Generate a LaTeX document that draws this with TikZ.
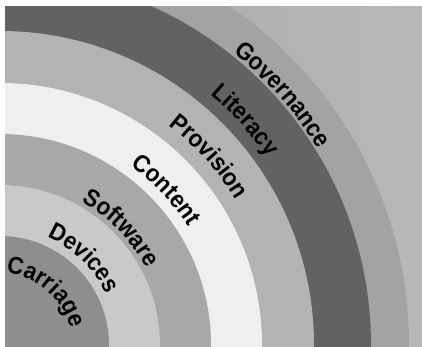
\documentclass[tikz,border=0pt]{standalone}
\usepackage{fontspec}
\usepackage{tikz}
\usetikzlibrary{decorations.text}
\newfontfamily\ringfamily{Liberation Sans}[FakeStretch=0.92]
\newcommand\ringfont{\ringfamily\bfseries\fontsize{24.3}{29}\selectfont}

\definecolor{govgray}{HTML}{A3A3A3}
\definecolor{litgray}{HTML}{626262}
\definecolor{provgray}{HTML}{B3B3B3}
\definecolor{contgray}{HTML}{EFEFEF}
\definecolor{softgray}{HTML}{A8A8A8}
\definecolor{devgray}{HTML}{C9C9C9}
\definecolor{cargray}{HTML}{8E8E8E}

\begin{document}
\begin{tikzpicture}[x=1pt, y=1pt,
    ringtext/.style={postaction={decorate},
      decoration={text along path, text align=center, text={|\ringfont|#1}}}]
    \useasboundingbox[fill=white] (0,0) rectangle (422,347);
    \coordinate (hub) at (0,2);

    % Rings
    \begin{scope}
        \clip (5,0) rectangle (422,340);
        \shade[left color=gray!68, right color=gray!56] (5,0) rectangle (422,340);
        \fill[govgray] (hub) circle[radius=409];
        \fill[litgray] (hub) circle[radius=371];
        \fill[provgray] (hub) circle[radius=314];
        \fill[contgray] (hub) circle[radius=262];
        \fill[softgray] (hub) circle[radius=211];
        \fill[devgray] (hub) circle[radius=160];
        \fill[cargray] (hub) circle[radius=109];
    \end{scope}

    % Labels
    \path[ringtext=Carriage] (hub) ++(94:72) arc[start angle=94, end angle=4, radius=72];
    \path[ringtext=Devices] (hub) ++(86:118) arc[start angle=86, end angle=6, radius=118];
    \path[ringtext=Software] (hub) ++(84:165) arc[start angle=84, end angle=4, radius=165];
    \path[ringtext=Content] (hub) ++(83:222) arc[start angle=83, end angle=3, radius=222];
    \path[ringtext=Provision] (hub) ++(82:277) arc[start angle=82, end angle=2, radius=277];
    \path[ringtext=Literacy] (hub) ++(82:327) arc[start angle=82, end angle=3, radius=327];
    \path[ringtext=Governance] (hub) ++(81:374) arc[start angle=81, end angle=2, radius=374];
\end{tikzpicture}
\end{document}
